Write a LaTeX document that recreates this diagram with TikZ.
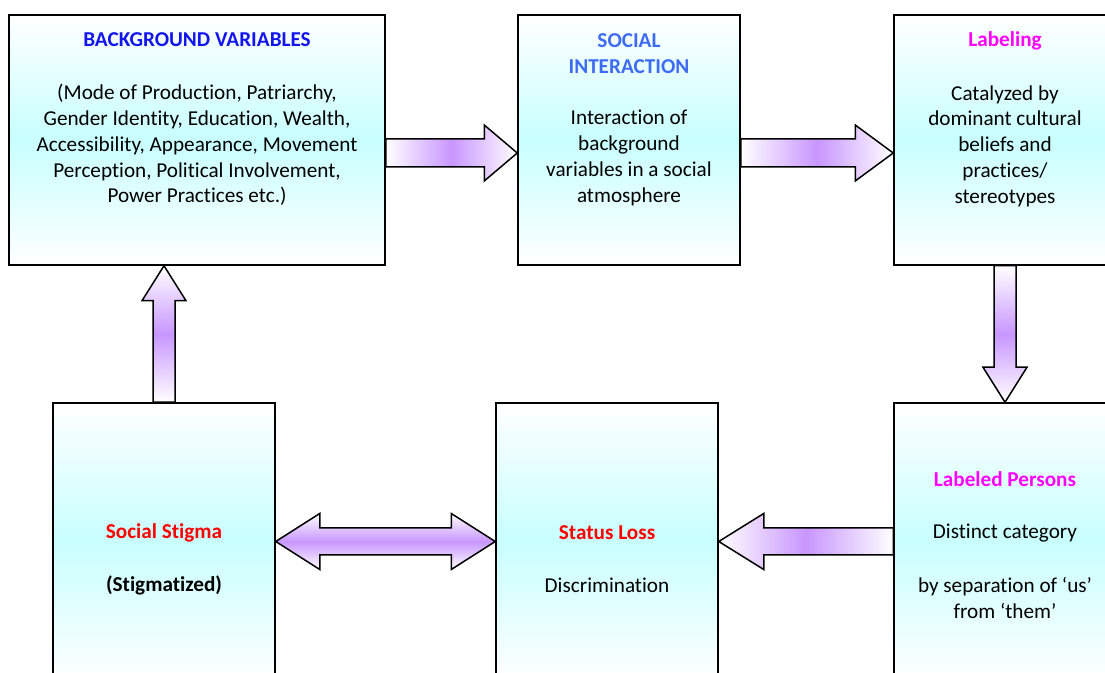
\documentclass[tikz,border=0pt]{standalone}
\usepackage{fontspec}
\setmainfont{Carlito}[Ligatures={NoCommon}]
\usetikzlibrary{calc}
\definecolor{boxcyan}{HTML}{C8FFFF}
\definecolor{flowpurple}{HTML}{C896FF}
\definecolor{ttlblue}{HTML}{1414F0}
\definecolor{ttlsky}{HTML}{3D6BF5}
\definecolor{ttlmag}{HTML}{FF00FF}
\definecolor{ttlred}{HTML}{FF0000}
\tikzset{
  box/.style={draw=black, line width=0.75pt, rectangle, top color=white, bottom color=white, middle color=boxcyan, minimum width=111pt, inner sep=0pt},
  txt/.style={font=\fontsize{10.6}{12.9}\selectfont, align=center, inner sep=0pt, text=black},
  ttl/.style={align=center, inner sep=0pt, font=\fontsize{10.6}{12.9}\selectfont\bfseries},
  hflow/.style={draw=black, line width=0.75pt, line join=miter, left color=white, right color=white, middle color=flowpurple},
  vflow/.style={draw=black, line width=0.75pt, line join=miter, top color=white, bottom color=white, middle color=flowpurple},
}
% #1 style, #2 tail, #3 tip, #4 shaft half width, #5 head half width, #6 head length (signed)
\newcommand\flowH[6]{%
  \path[#1] ($(#2)+(0,-#4)$) -- ($(#3)+({-(#6)},-#4)$) -- ($(#3)+({-(#6)},-#5)$) -- (#3)
    -- ($(#3)+({-(#6)},#5)$) -- ($(#3)+({-(#6)},#4)$) -- ($(#2)+(0,#4)$) -- cycle;}
\newcommand\flowV[6]{%
  \path[#1] ($(#2)+(-#4,0)$) -- ($(#3)+(-#4,{-(#6)})$) -- ($(#3)+(-#5,{-(#6)})$) -- (#3)
    -- ($(#3)+(#5,{-(#6)})$) -- ($(#3)+(#4,{-(#6)})$) -- ($(#2)+(#4,0)$) -- cycle;}
\begin{document}
\begin{tikzpicture}[x=0.5pt,y=-0.5pt]
\clip (0,0) rectangle (1105,673);
\fill[white] (0,0) rectangle (1105,673);

% boxes
\node[box, minimum width=188pt, minimum height=125pt] (bg) at (197,140) {};
\node[box, minimum height=125pt] (si) at (629,140) {};
\node[box, minimum height=125pt] (lab) at (1005,140) {};
\node[box, minimum height=138.5pt] (stig) at (164,541.5) {};
\node[box, minimum height=138.5pt] (sl) at (607,541.5) {};
\node[box, minimum height=138.5pt] (lp) at (1005,541.5) {};

% arrows
\flowH{hflow}{$(bg.east)+(0,13)$}{$(si.west)+(0,13)$}{14}{28}{33}
\flowH{hflow}{$(si.east)+(0,13)$}{$(lab.west)+(0,13)$}{14}{28}{38}
\flowV{vflow}{lab.south}{lp.north}{11}{22}{35}
\flowV{vflow}{stig.north}{stig.north |- bg.south}{11}{22}{-35}
\flowH{hflow}{lp.west}{sl.east}{13.5}{28}{-45}
\path[vflow] (stig.east) -- ($(stig.east)+(44,-28)$) -- ($(stig.east)+(44,-13.5)$)
  -- ($(sl.west)+(-44,-13.5)$) -- ($(sl.west)+(-44,-28)$) -- (sl.west)
  -- ($(sl.west)+(-44,28)$) -- ($(sl.west)+(-44,13.5)$)
  -- ($(stig.east)+(44,13.5)$) -- ($(stig.east)+(44,28)$) -- cycle;

% texts
\node[ttl, text=ttlblue] (bgT) at (197,40) {BACKGROUND VARIABLES};
\node[txt] (bgB) at (197,145) {(Mode of Production, Patriarchy,\\Gender Identity, Education, Wealth,\\Accessibility, Appearance, Movement\\Perception, Political Involvement,\\Power Practices etc.)};

\node[ttl, text=ttlsky] (siT) at (629,54) {SOCIAL\\INTERACTION};
\node[txt] (siB) at (629,158) {Interaction of\\background\\variables in a social\\atmosphere};

\node[ttl, text=ttlmag] (labT) at (1005,41) {Labeling};
\node[txt] (labB) at (1005,146) {Catalyzed by\\dominant cultural\\beliefs and\\practices/\\stereotypes};

\node[ttl, text=ttlmag] (lpT) at (1005,479) {Labeled Persons};
\node[txt] (lpB1) at (1005,533) {Distinct category};
\node[txt] (lpB2) at (1005,598) {by separation of ‘us’\\from ‘them’};

\node[ttl, text=ttlred] (stigT) at (164,533) {Social Stigma};
\node[ttl, text=black] (stigB) at (164,585) {(Stigmatized)};

\node[ttl, text=ttlred] (slT) at (607,533) {Status Loss};
\node[txt] (slB) at (607,585) {Discrimination};
\end{tikzpicture}
\end{document}
